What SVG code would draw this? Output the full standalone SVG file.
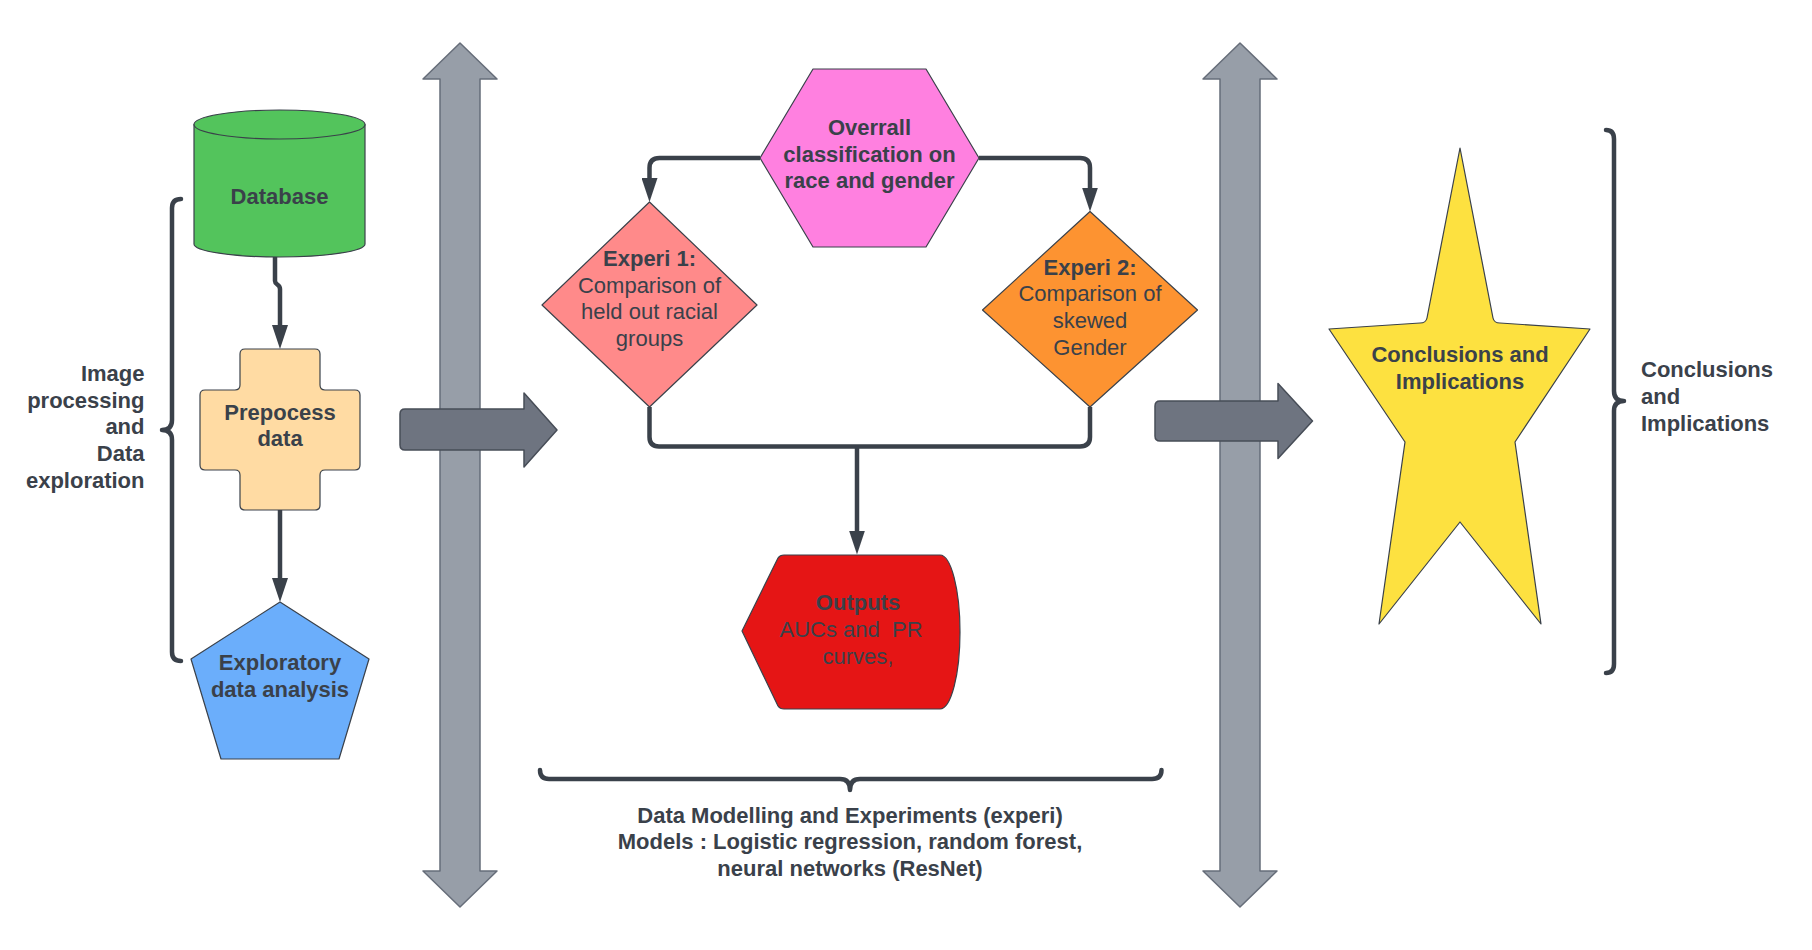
<svg xmlns="http://www.w3.org/2000/svg" width="1812" height="950" viewBox="0 0 1812 950">
<style>
text{font-family:"Liberation Sans",Arial,sans-serif;font-size:22px;fill:#3A414A;text-anchor:middle}
.b{font-weight:bold}
.shape{stroke:#3A414A;stroke-width:1.2;stroke-linejoin:round}
.varrow{fill:#979EA8;stroke:#666D79;stroke-width:1.5;stroke-linejoin:round}
.harrow{fill:#6E7480;stroke:#474D57;stroke-width:1.5;stroke-linejoin:round}
.conn{fill:none;stroke:#3A414A;stroke-width:4.5}
.brace{fill:none;stroke:#3A414A;stroke-width:4.5;stroke-linecap:round;stroke-linejoin:round}
</style>
<defs>
<marker id="ah" viewBox="0 0 24 16" refX="6" refY="8" markerWidth="24" markerHeight="16" markerUnits="userSpaceOnUse" orient="auto">
<path d="M0,0 L24,8 L0,16 Z" fill="#3A414A"/>
</marker>
</defs>
<rect width="1812" height="950" fill="#FFFFFF"/>

<g id="big-arrows">
<path class="varrow" d="M460,43 L497,79 L480,79 L480,871 L497,871 L460,907 L423,871 L440,871 L440,79 L423,79 Z"/>
<path class="varrow" d="M1240,43 L1277,79 L1260,79 L1260,871 L1277,871 L1240,907 L1203,871 L1220,871 L1220,79 L1203,79 Z"/>
<path class="harrow" d="M405,409 H524 V393 L557,430 L524,467 V450 H405 Q400,450 400,445 V414 Q400,409 405,409 Z"/>
<path class="harrow" d="M1160,401 H1278 V383.5 L1312.5,421 L1278,458.5 V441 H1160 Q1155,441 1155,436 V406 Q1155,401 1160,401 Z"/>
</g>

<g id="braces">
<path class="brace" d="M181,199 Q172,199 172,208 V420 Q172,430 162,430 Q172,430 172,440 V652 Q172,661 181,661"/>
<path class="brace" d="M540,770 Q540,779 549,779 H840 Q850,779 850,790 Q850,779 860,779 H1152 Q1161.5,779 1161.5,770"/>
<path class="brace" d="M1606,130 Q1614,130 1614,139 V391 Q1614,401 1624,401 Q1614,401 1614,411 V664 Q1614,673 1606,673"/>
</g>

<g id="connectors">
<path class="conn" d="M275,257 V281 C275,285 280,284 280,289 V331" marker-end="url(#ah)"/>
<path class="conn" d="M280,510 V584" marker-end="url(#ah)"/>
<path class="conn" d="M760,158 H659.5 Q649.5,158 649.5,168 V184" marker-end="url(#ah)"/>
<path class="conn" d="M979,158 H1080 Q1090,158 1090,168 V193.5" marker-end="url(#ah)"/>
<path class="conn" d="M649.5,407 V437 Q649.5,446.5 659,446.5 H1080 Q1090,446.5 1090,437 V407"/>
<path class="conn" d="M857,446.5 V536.5" marker-end="url(#ah)"/>
</g>

<g id="database">
<path class="shape" fill="#53C45C" d="M194,124.5 V244 A85.5,13 0 0 0 365,244 V124.5 Z"/>
<ellipse class="shape" fill="#53C45C" cx="279.5" cy="124.5" rx="85.5" ry="14.5"/>
<text class="b" x="279.5" y="203.5">Database</text>
</g>

<g id="prepocess">
<path class="shape" fill="#FFDBA3" d="M245,349 H315 Q320,349 320,354 V385 Q320,390 325,390 H355 Q360,390 360,395 V465 Q360,470 355,470 H325 Q320,470 320,475 V505 Q320,510 315,510 H245 Q240,510 240,505 V475 Q240,470 235,470 H205 Q200,470 200,465 V395 Q200,390 205,390 H235 Q240,390 240,385 V354 Q240,349 245,349 Z"/>
<text class="b" x="280" y="419.5">Prepocess</text>
<text class="b" x="280" y="446">data</text>
</g>

<g id="exploratory">
<path class="shape" fill="#6BAEFB" d="M280,602 L369,659 L339,759 L221,759 L191,659 Z"/>
<text class="b" x="280" y="670">Exploratory</text>
<text class="b" x="280" y="697">data analysis</text>
</g>

<g id="left-label">
<text class="b" style="text-anchor:end" x="144.5" y="381">Image</text>
<text class="b" style="text-anchor:end" x="144.5" y="408">processing</text>
<text class="b" style="text-anchor:end" x="144.5" y="434">and</text>
<text class="b" style="text-anchor:end" x="144.5" y="461">Data</text>
<text class="b" style="text-anchor:end" x="144.5" y="488">exploration</text>
</g>

<g id="overall">
<path class="shape" fill="#FF80E0" d="M813,69 L926,69 L979,158 L926,247 L813,247 L760,158 Z"/>
<text class="b" x="869.5" y="135">Overrall</text>
<text class="b" x="869.5" y="161.5">classification on</text>
<text class="b" x="869.5" y="188">race and gender</text>
</g>

<g id="experi1">
<path class="shape" fill="#FF8A8A" d="M649.5,202 L757,305 L649.5,407 L542,305 Z"/>
<text class="b" x="649.5" y="266">Experi 1:</text>
<text x="649.5" y="292.5">Comparison of</text>
<text x="649.5" y="319">held out racial</text>
<text x="649.5" y="345.5">groups</text>
</g>

<g id="experi2">
<path class="shape" fill="#FD9331" d="M1090,211.5 L1197.5,310 L1090,407 L982.5,310 Z"/>
<text class="b" x="1090" y="274.5">Experi 2:</text>
<text x="1090" y="301">Comparison of</text>
<text x="1090" y="327.5">skewed</text>
<text x="1090" y="354.5">Gender</text>
</g>

<g id="outputs">
<path class="shape" fill="#E51515" d="M742,631 L778,558 Q780,555 784,555 H940 A20,77 0 0 1 940,709 H784 Q780,709 778,706 Z"/>
<text class="b" x="858" y="609.5">Outputs</text>
<text x="851" y="636.5" xml:space="preserve">AUCs and  PR</text>
<text x="858" y="663.5">curves,</text>
</g>

<g id="bottom-label">
<text class="b" x="850" y="822.5">Data Modelling and Experiments (experi)</text>
<text class="b" x="850" y="849">Models : Logistic regression, random forest,</text>
<text class="b" x="850" y="876">neural networks (ResNet)</text>
</g>

<g id="conclusions">
<path class="shape" fill="#FDE140" d="M1460,148 L1493,318 Q1494,323 1500,323 L1590,329 L1515,442 L1541,624 L1460,522 L1379,624 L1405,442 L1329,329 L1420,323 Q1426,323 1427,318 Z"/>
<text class="b" x="1460" y="362">Conclusions and</text>
<text class="b" x="1460" y="388.5">Implications</text>
</g>

<g id="right-label">
<text class="b" style="text-anchor:start" x="1641" y="377">Conclusions</text>
<text class="b" style="text-anchor:start" x="1641" y="404">and</text>
<text class="b" style="text-anchor:start" x="1641" y="430.5">Implications</text>
</g>
</svg>
